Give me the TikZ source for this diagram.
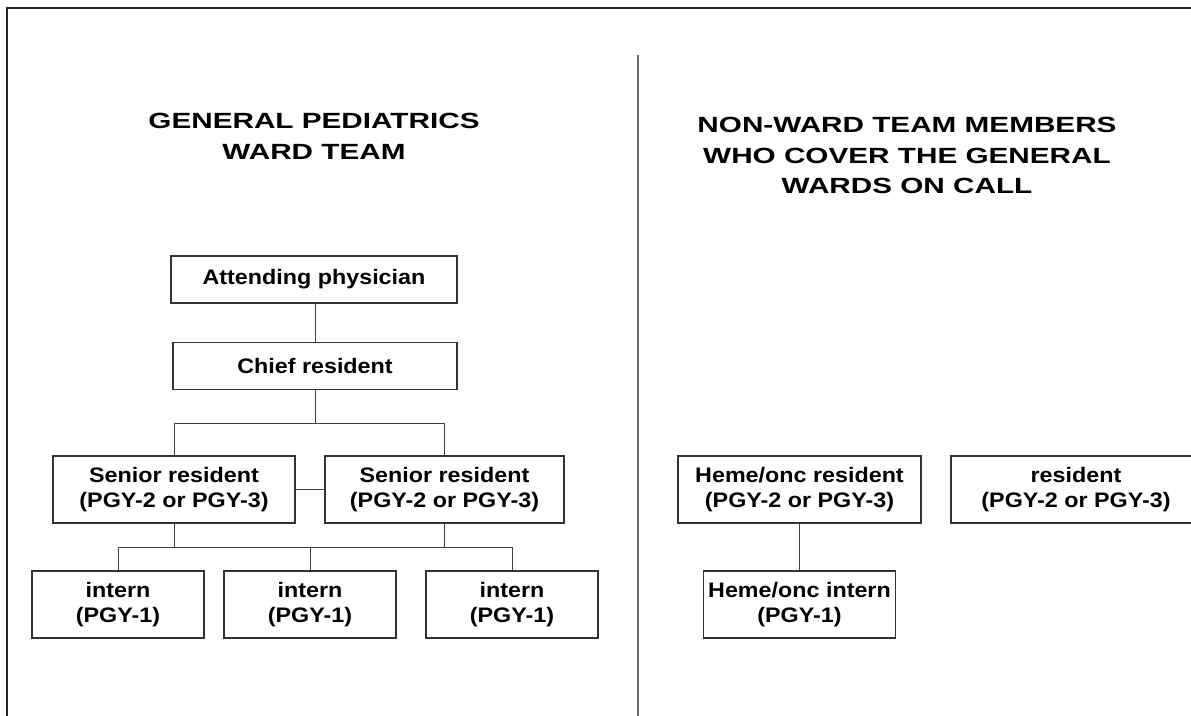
\documentclass[tikz,border=0pt]{standalone}
\usepackage{fontspec}
\setmainfont{Liberation Sans}
\newfontfamily\boxfont[FakeStretch=1.11]{Liberation Sans}
\newfontfamily\headfont[FakeStretch=1.35]{Liberation Sans}
\tikzstyle{heading} = [align=center, inner sep=0pt, font=\headfont\bfseries\fontsize{22}{30.5}\selectfont]
\tikzstyle{rolebox} = [rectangle, draw=black!80, line width=1.3pt, text centered, align=center, inner sep=0pt, font=\boxfont\bfseries\fontsize{21}{25}\selectfont]
\tikzstyle{singlebox} = [rolebox, minimum height=47pt]
\tikzstyle{doublebox} = [rolebox, minimum height=67pt]
\tikzstyle{link} = [draw=black!75, line width=1pt]

\begin{document}
\begin{tikzpicture}[x=1pt,y=-1pt]
    \useasboundingbox (0,0) rectangle (1191,715);
    \clip (0,0) rectangle (1191,715);
    \draw[line width=2pt, black!85] (7,725) -- (7,8) -- (1200,8);
    \draw[line width=1.2pt, black!60] (638,55) -- (638,725);

    \node[heading, anchor=north] (wardtitle) at (314,113) {GENERAL PEDIATRICS\\WARD TEAM};
    \node[heading, anchor=north] (calltitle) at (907,117) {NON-WARD TEAM MEMBERS\\WHO COVER THE GENERAL\\WARDS ON CALL};

    \node[singlebox, minimum width=286pt] (attending) at (314,279.5) {Attending physician};
    \node[singlebox, minimum width=284pt] (chief) at (315,366) {Chief resident};
    \node[doublebox, minimum width=242pt] (senior1) at (174,489.5) {Senior resident\\(PGY-2 or PGY-3)};
    \node[doublebox, minimum width=239pt] (senior2) at (444.5,489.5) {Senior resident\\(PGY-2 or PGY-3)};
    \node[doublebox, minimum width=172pt] (intern1) at (118,604.5) {intern\\(PGY-1)};
    \node[doublebox, minimum width=172pt] (intern2) at (310,604.5) {intern\\(PGY-1)};
    \node[doublebox, minimum width=172pt] (intern3) at (512,604.5) {intern\\(PGY-1)};

    \node[doublebox, minimum width=243pt] (hemeres) at (799.5,489.5) {Heme/onc resident\\(PGY-2 or PGY-3)};
    \node[doublebox, minimum width=192pt] (hemeint) at (799.5,604.5) {Heme/onc intern\\(PGY-1)};
    \node[doublebox, minimum width=250pt] (resident) at (1076,489.5) {resident\\(PGY-2 or PGY-3)};

    \draw[link] (chief.north) -- (chief.north |- attending.south);
    \draw[link] (chief.south) -- ++(0,33) -| (senior1.north);
    \draw[link] (chief.south) -- ++(0,33) -| (senior2.north);
    \draw[link] (senior1.east) -- (senior2.west);
    \coordinate (internbus) at (0,547);
    \draw[link] (intern1.north) |- (internbus -| intern3.north) -- (intern3.north);
    \draw[link] (senior1.south) -- (senior1.south |- internbus);
    \draw[link] (senior2.south) -- (senior2.south |- internbus);
    \draw[link] (intern2.north) -- (intern2.north |- internbus);
    \draw[link] (hemeres.south) -- (hemeint.north);
\end{tikzpicture}
\end{document}
